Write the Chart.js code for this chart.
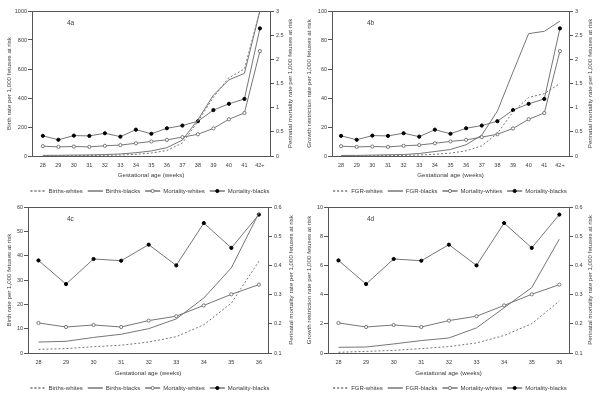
<!DOCTYPE html>
<html>
<head>
<meta charset="utf-8">
<script src="https://cdn.jsdelivr.net/npm/chart.js@4.4.0/dist/chart.umd.min.js"></script>
<style>
  html, body { margin: 0; padding: 0; background: #fff; overflow: hidden; }
  .panel { position: absolute; width: 300px; height: 210px; }
</style>
</head>
<body>
<div class="panel" style="left:0;top:0"><canvas id="c4a" width="300" height="210"></canvas></div>
<div class="panel" style="left:300px;top:0"><canvas id="c4b" width="300" height="210"></canvas></div>
<div class="panel" style="left:0;top:200px"><canvas id="c4c" width="300" height="210"></canvas></div>
<div class="panel" style="left:300px;top:200px"><canvas id="c4d" width="300" height="210"></canvas></div>
<script>
// gestational weeks, 4a/4b use all of them, 4c/4d stop at 36
const weeks = ['28', '29', '30', '31', '32', '33', '34', '35', '36', '37', '38', '39', '40', '41', '42+'];

// rates per 1,000 fetuses at risk
const birthsWhites = [1.5, 1.8, 2.6, 3.2, 4.5, 6.7, 11.6, 20.5, 37.7, 90, 238, 405, 540, 600, 1000];
const birthsBlacks = [4.5, 4.8, 6.4, 7.7, 10, 14, 22.6, 35, 57.5, 110, 250, 420, 525, 570, 1000];
const fgrWhites = [0.05, 0.11, 0.18, 0.3, 0.44, 0.69, 1.2, 2.0, 3.56, 7, 15.6, 30.5, 40.4, 43, 50];
const fgrBlacks = [0.39, 0.41, 0.62, 0.85, 1.03, 1.72, 3.1, 4.48, 7.8, 14.4, 31, 58, 84.4, 86, 93];
const mortalityWhites = [0.203, 0.189, 0.196, 0.189, 0.211, 0.226, 0.263, 0.301, 0.334, 0.39, 0.45, 0.57, 0.76, 0.89, 2.17];
const mortalityBlacks = [0.417, 0.336, 0.422, 0.416, 0.471, 0.400, 0.545, 0.460, 0.574, 0.63, 0.72, 0.95, 1.08, 1.18, 2.64];

const GREY = '#767676';
const FONT = "'Liberation Sans', Arial, sans-serif";
Chart.defaults.font.family = FONT;
Chart.defaults.color = '#3a3a3a';

const fmt = (v) => String(+v.toFixed(2));

function pts(values, n) {
  return values.slice(0, n).map((v, i) => ({ x: i, y: v }));
}

// box round the plot, panel tag, right title (reads bottom to top) and markers in the legend
const extras = {
  id: 'extras',
  afterDraw(chart, args, opts) {
    const { ctx, chartArea: a, legend } = chart;
    ctx.save();
    ctx.strokeStyle = '#555';
    ctx.lineWidth = 1;
    ctx.strokeRect(Math.round(a.left) + 0.5, Math.round(a.top) + 0.5,
      Math.round(a.right - a.left), Math.round(a.bottom - a.top));

    ctx.fillStyle = '#3a3a3a';
    ctx.font = '6.5px ' + FONT;
    ctx.textBaseline = 'middle';
    ctx.fillText(opts.tag, a.left + opts.tagX, a.top + opts.tagY);

    ctx.font = '6.2px ' + FONT;
    ctx.textAlign = 'center';
    ctx.translate(opts.rightTitleX, (a.top + a.bottom) / 2);
    ctx.rotate(-Math.PI / 2);
    ctx.fillText('Perinatal mortality rate per 1,000 fetuses at risk', 0, 0);
    ctx.restore();

    legend.legendItems.forEach((item, i) => {
      const ds = chart.data.datasets[item.datasetIndex];
      if (!ds.pointRadius) return;
      const box = legend.legendHitBoxes[i];
      ctx.save();
      ctx.beginPath();
      ctx.arc(box.left + 7.5, box.top + 3, ds.pointRadius, 0, Math.PI * 2);
      ctx.fillStyle = ds.pointBackgroundColor;
      ctx.strokeStyle = ds.pointBorderColor;
      ctx.lineWidth = 1;
      ctx.fill();
      ctx.stroke();
      ctx.restore();
    });
  }
};

function makePanel(id, p) {
  const n = p.count;
  return new Chart(document.getElementById(id), {
    type: 'line',
    data: {
      datasets: [
        { label: p.names[0], data: pts(p.rateW, n), yAxisID: 'yL', borderColor: GREY, backgroundColor: GREY,
          borderWidth: 1, borderDash: [2, 2], pointRadius: 0 },
        { label: p.names[1], data: pts(p.rateB, n), yAxisID: 'yL', borderColor: GREY, backgroundColor: GREY,
          borderWidth: 1, pointRadius: 0 },
        { label: 'Mortality-whites', data: pts(mortalityWhites, n), yAxisID: 'yR', borderColor: GREY, backgroundColor: '#fff',
          borderWidth: 1, pointRadius: 1.6, pointBorderWidth: 1, pointBorderColor: GREY, pointBackgroundColor: '#fff' },
        { label: 'Mortality-blacks', data: pts(mortalityBlacks, n), yAxisID: 'yR', borderColor: GREY, backgroundColor: '#000',
          borderWidth: 1, pointRadius: 1.6, pointBorderWidth: 1, pointBorderColor: '#000', pointBackgroundColor: '#000' }
      ]
    },
    options: {
      responsive: false,
      animation: false,
      layout: { padding: { top: p.padTop, bottom: p.padBottom, left: 0, right: 0 } },
      plugins: {
        tooltip: { enabled: false },
        legend: {
          position: 'bottom',
          labels: { boxWidth: 15, boxHeight: 0, padding: 5, font: { size: 6 }, color: '#3a3a3a' }
        },
        extras: { tag: p.tag, tagX: p.tagX, tagY: 12, rightTitleX: p.rightTitleX }
      },
      scales: {
        x: {
          type: 'linear', min: p.xMin, max: p.xMax,
          afterFit: (s) => { s.height = 27; },
          grid: { display: false, drawTicks: false },
          border: { display: false },
          ticks: { stepSize: 1, includeBounds: false, autoSkip: false, maxRotation: 0, padding: 6,
                   font: { size: 5.5 }, callback: (v) => weeks[v] },
          title: { display: true, text: 'Gestational age (weeks)', font: { size: 6.2 },
                   padding: { top: 0, bottom: p.xTitlePad } }
        },
        yL: {
          position: 'left', min: 0, max: p.leftMax,
          afterFit: (s) => { s.width = p.leftW; },
          grid: { drawOnChartArea: false, drawTicks: true, tickLength: 4, color: '#555' },
          border: { display: false },
          ticks: { stepSize: p.leftStep, padding: 1, font: { size: 5.5 }, callback: fmt },
          title: { display: true, text: p.leftTitle, font: { size: 6.2 }, padding: { top: 6, bottom: 0 } }
        },
        yR: {
          position: 'right', min: p.rightMin, max: p.rightMax,
          afterFit: (s) => { s.width = p.rightW; },
          grid: { drawOnChartArea: false, drawTicks: true, tickLength: 4, color: '#555' },
          border: { display: false },
          ticks: { stepSize: p.rightStep, padding: 2, font: { size: 5.5 }, callback: fmt }
        }
      }
    },
    plugins: [extras]
  });
}

makePanel('c4a', {
  tag: '4a', tagX: 35, count: 15, names: ['Births-whites', 'Births-blacks'],
  rateW: birthsWhites, rateB: birthsBlacks,
  leftTitle: 'Birth rate per 1,000 fetuses at risk', leftMax: 1000, leftStep: 200,
  rightMin: 0, rightMax: 3, rightStep: 0.5,
  xMin: -0.7, xMax: 14.65, leftW: 32, rightW: 30,
  padTop: 11, padBottom: 6, xTitlePad: 4, rightTitleX: 290
});

makePanel('c4b', {
  tag: '4b', tagX: 35, count: 15, names: ['FGR-whites', 'FGR-blacks'],
  rateW: fgrWhites, rateB: fgrBlacks,
  leftTitle: 'Growth restriction rate per 1,000 fetuses at risk', leftMax: 100, leftStep: 20,
  rightMin: 0, rightMax: 3, rightStep: 0.5,
  xMin: -0.58, xMax: 14.58, leftW: 32, rightW: 31,
  padTop: 11, padBottom: 6, xTitlePad: 4, rightTitleX: 290
});

makePanel('c4c', {
  tag: '4c', tagX: 39, count: 9, names: ['Births-whites', 'Births-blacks'],
  rateW: birthsWhites, rateB: birthsBlacks,
  leftTitle: 'Birth rate per 1,000 fetuses at risk', leftMax: 60, leftStep: 10,
  rightMin: 0.1, rightMax: 0.6, rightStep: 0.1,
  xMin: -0.38, xMax: 8.33, leftW: 28, rightW: 32,
  padTop: 7, padBottom: 9, xTitlePad: 3, rightTitleX: 291
});

makePanel('c4d', {
  tag: '4d', tagX: 39, count: 9, names: ['FGR-whites', 'FGR-blacks'],
  rateW: fgrWhites, rateB: fgrBlacks,
  leftTitle: 'Growth restriction rate per 1,000 fetuses at risk', leftMax: 10, leftStep: 2,
  rightMin: 0.1, rightMax: 0.6, rightStep: 0.1,
  xMin: -0.38, xMax: 8.35, leftW: 28, rightW: 31,
  padTop: 7, padBottom: 9, xTitlePad: 3, rightTitleX: 290
});
</script>
</body>
</html>
